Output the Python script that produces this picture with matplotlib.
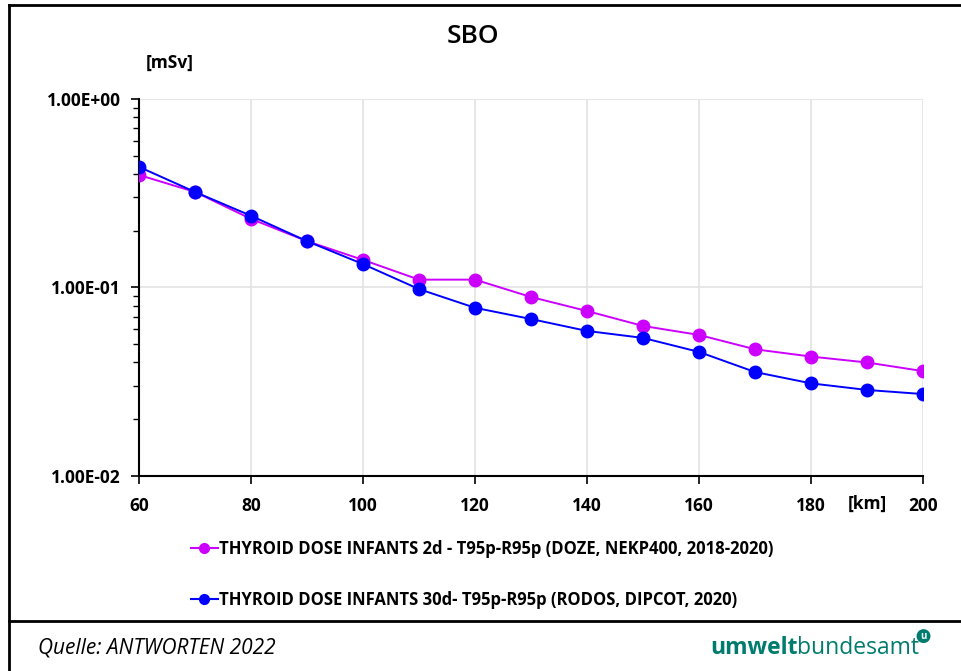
import matplotlib
matplotlib.use("Agg")
from matplotlib import pyplot as plt
from matplotlib.ticker import FixedLocator, LogLocator, NullFormatter
import matplotlib.lines as mlines

plt.rcParams['font.family'] = ['Open Sans', 'DejaVu Sans']

# distance from plant [km]
distance_km = [60, 70, 80, 90, 100, 110, 120, 130, 140, 150, 160, 170, 180, 190, 200]

# thyroid dose infants [mSv]
dose_doze = [0.395, 0.321, 0.231, 0.176, 0.140, 0.110, 0.110, 0.089, 0.075,
             0.0625, 0.056, 0.047, 0.043, 0.040, 0.036]
dose_rodos = [0.436, 0.321, 0.240, 0.176, 0.133, 0.098, 0.078, 0.068, 0.0588,
              0.054, 0.0455, 0.0356, 0.031, 0.0286, 0.0272]

label_doze = "THYROID DOSE INFANTS 2d - T95p-R95p (DOZE, NEKP400, 2018-2020)"
label_rodos = "THYROID DOSE INFANTS 30d- T95p-R95p (RODOS, DIPCOT, 2020)"

x_ticks = [60, 80, 100, 120, 140, 160, 180, 200]
y_ticks = [1e-2, 1e-1, 1e0]
y_tick_labels = ["1.00E-02", "1.00E-01", "1.00E+00"]

magenta = "#cc00ff"
blue = "#0000ff"
teal = "#007c6e"

fig = plt.figure(figsize=(9.62, 6.71), dpi=100)
ax = fig.add_axes([0.1445, 0.2906, 0.815, 0.562])

ax.plot(distance_km, dose_doze, color=magenta, lw=1.4, marker="o", ms=9, zorder=3)
ax.plot(distance_km, dose_rodos, color=blue, lw=1.4, marker="o", ms=9, zorder=4)

ax.set_yscale("log")
ax.set_xlim(60, 200)
ax.set_ylim(1e-2, 1e0)
ax.xaxis.set_major_locator(FixedLocator(x_ticks))
ax.set_yticks(y_ticks)
ax.set_yticklabels(y_tick_labels)
ax.yaxis.set_minor_locator(LogLocator(base=10, subs=range(2, 10)))
ax.yaxis.set_minor_formatter(NullFormatter())

ax.grid(True, which="major", color="#e3e3e3", lw=1.2)
ax.set_axisbelow(True)
for s in ["top", "right"]:
    ax.spines[s].set_visible(False)
ax.spines["left"].set_linewidth(1.5)
ax.spines["bottom"].set_linewidth(1.5)
ax.tick_params(axis="both", which="major", length=6, width=1.2, labelsize=12.5)
ax.tick_params(axis="y", which="minor", length=4, width=1.0)
ax.tick_params(axis="x", pad=9)
ax.tick_params(axis="y", pad=7)
for t in ax.get_xticklabels() + ax.get_yticklabels():
    t.set_fontweight("bold")

fig.text(0.492, 0.945, "SBO", ha="center", va="center", fontsize=19, fontweight="semibold")
fig.text(0.151, 0.906, "[mSv]", ha="left", va="center", fontsize=12.5, fontweight="bold")
fig.text(0.881, 0.249, "[km]", ha="left", va="center", fontsize=12.5, fontweight="bold")

# legend below the chart
h1 = mlines.Line2D([], [], color=magenta, lw=1.5, marker="o", ms=7)
h2 = mlines.Line2D([], [], color=blue, lw=1.5, marker="o", ms=7)
fig.legend([h1, h2], [label_doze, label_rodos], loc="upper left",
           bbox_to_anchor=(0.183, 0.218), frameon=False, handlelength=1.6,
           handletextpad=0.05, labelspacing=2.0,
           prop={"size": 12, "weight": "bold"})

# outer frame and footer
frame = dict(color="black", lw=2, transform=fig.transFigure)
fig.add_artist(mlines.Line2D([0.009, 0.009], [0.0, 0.993], **frame))
fig.add_artist(mlines.Line2D([0.009, 1.0], [0.993, 0.993], **frame))
fig.add_artist(mlines.Line2D([0.009, 1.0], [0.074, 0.074], **frame))

fig.text(0.04, 0.034, "Quelle: ANTWORTEN 2022", ha="left", va="center",
         fontsize=15, style="italic")
t1 = fig.text(0.738, 0.034, "umwelt", ha="left", va="center", fontsize=16.5,
              fontweight="bold", color=teal)
fig.canvas.draw()
bb = t1.get_window_extent()
x2 = bb.x1 / fig.bbox.width
fig.text(x2, 0.034, "bundesamt", ha="left", va="center", fontsize=16.5, color=teal)
fig.text(0.96, 0.052, "u", ha="center", va="center", fontsize=7,
         fontweight="bold", color="white",
         bbox=dict(boxstyle="circle,pad=0.15", fc=teal, ec="none"))

fig.savefig("out.png", dpi=100)
